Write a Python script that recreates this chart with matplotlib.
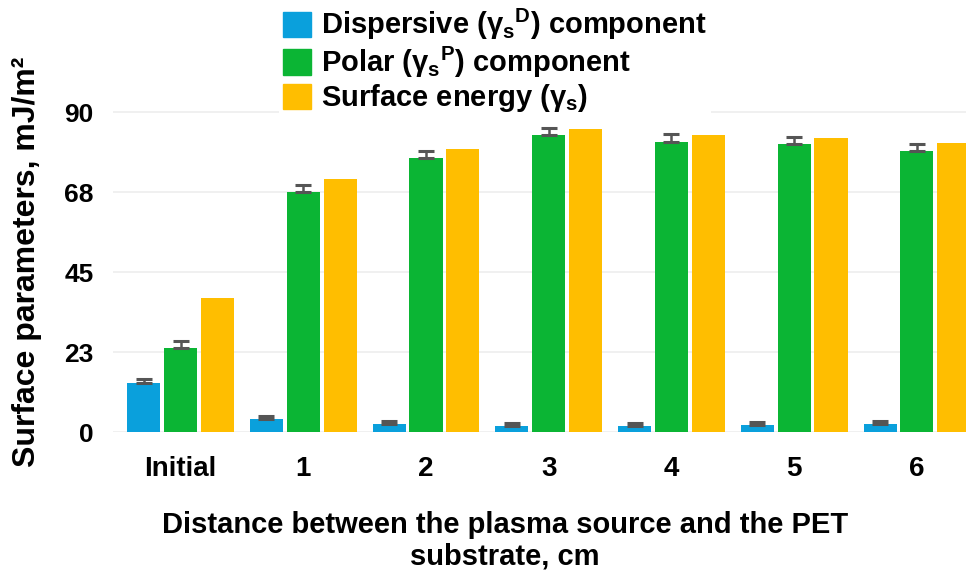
import matplotlib
matplotlib.use("Agg")
import matplotlib.pyplot as plt
import matplotlib.patches as mpatches
import numpy as np

plt.rcParams['font.family'] = ['Liberation Sans', 'DejaVu Sans']
plt.rcParams['mathtext.fontset'] = 'custom'
plt.rcParams['mathtext.rm'] = 'Liberation Sans:bold'
plt.rcParams['mathtext.it'] = 'Liberation Sans:bold'
plt.rcParams['mathtext.bf'] = 'Liberation Sans:bold'

# data
groups = ['Initial', '1', '2', '3', '4', '5', '6']
dispersive = [13.9, 3.6, 2.3, 1.7, 1.7, 2.0, 2.2]
dispersive_err = [1.0, 0.9, 0.9, 0.9, 0.9, 0.9, 0.9]
polar = [23.7, 67.7, 77.3, 83.6, 81.6, 81.1, 79.0]
polar_err = [2.0, 1.9, 1.9, 1.9, 2.2, 1.9, 2.1]
surface = [37.6, 71.2, 79.7, 85.3, 83.7, 82.9, 81.4]

yticks = [0, 22.5, 45, 67.5, 90]
ytick_labels = ['0', '23', '45', '68', '90']

labels = [r'Dispersive ($\gamma_{s}{}^{D}$) component',
          r'Polar ($\gamma_{s}{}^{P}$) component',
          r'Surface energy ($\gamma_{s}$)']
colors = ['#0aa0dc', '#0bb534', '#ffbe00']

fig = plt.figure(figsize=(9.66, 5.70), dpi=100)
ax = fig.add_axes([0.117, 0.2421, 0.883, 0.5825])

x = np.arange(len(groups))
w = 0.27
off = 0.30
err_kw = dict(ecolor='#555555', elinewidth=1.8, capsize=5.5, capthick=2.2)

ax.bar(x - off, dispersive, w, color=colors[0],
       yerr=[np.zeros(len(x)), dispersive_err], error_kw=err_kw, zorder=3)
ax.bar(x, polar, w, color=colors[1],
       yerr=[np.zeros(len(x)), polar_err], error_kw=err_kw, zorder=3)
ax.bar(x + off, surface, w, color=colors[2], zorder=3)

ax.set_xlim(-0.55, 6.40)
ax.set_ylim(0, 93.5)
ax.set_yticks(yticks)
ax.set_yticklabels(ytick_labels)
ax.set_xticks(x)
ax.set_xticklabels(groups, fontweight='bold', fontsize=20)
for t in ax.get_yticklabels():
    t.set_fontweight('bold')
    t.set_fontsize(19)
ax.tick_params(axis='both', length=0)
ax.tick_params(axis='x', pad=17)
ax.tick_params(axis='y', pad=14)
ax.grid(axis='y', color='#eeeeee', lw=1.2, zorder=0)
for s in ax.spines.values():
    s.set_visible(False)

fig.text(27 / 966, 1 - 262 / 570, 'Surface parameters, mJ/m²', rotation=90,
         ha='center', va='center', fontsize=23, fontweight='bold')
fig.text(505 / 966, 1 - 541 / 570,
         'Distance between the plasma source and the PET\nsubstrate, cm',
         ha='center', va='center', fontsize=21, fontweight='bold', linespacing=1.15)

handles = [mpatches.Patch(color=c) for c in colors]
leg = fig.legend(handles, labels, loc='upper left', bbox_to_anchor=(279 / 966, 0.995),
                 prop=dict(weight='bold', size=21), frameon=True,
                 handlelength=0.95, handleheight=0.95, handletextpad=0.35,
                 labelspacing=0.08, borderpad=0.15, borderaxespad=0)
leg.get_frame().set_facecolor('white')
leg.get_frame().set_edgecolor('none')
leg.get_frame().set_alpha(1)

fig.savefig('out.png', dpi=100)
